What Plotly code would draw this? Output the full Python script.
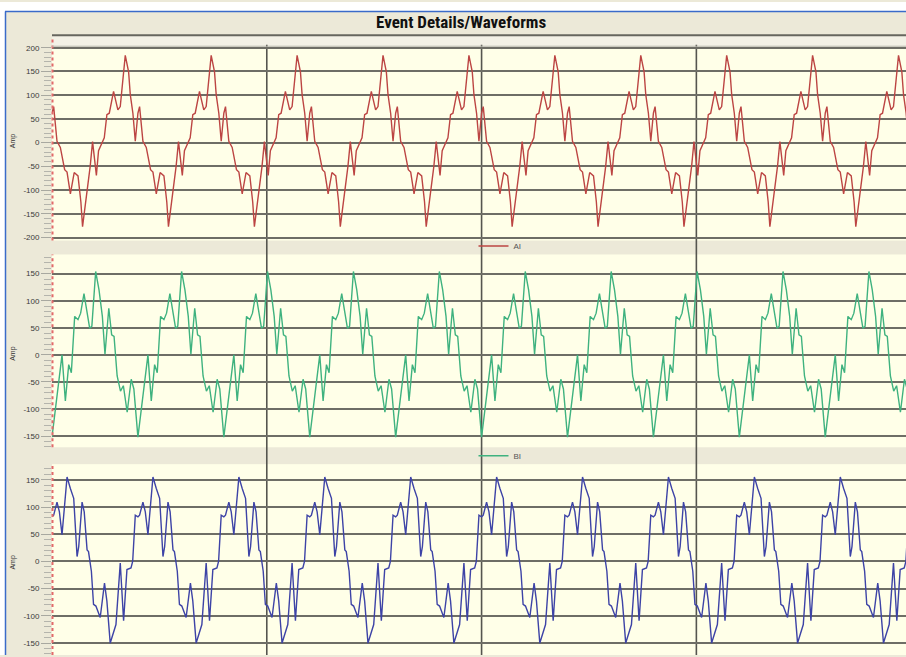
import plotly.graph_objects as go

# ---------------- data ----------------
# one cycle of each waveform: phase in degrees, value in Amp
ai_phase = [0, 7, 21, 35, 53, 63, 77, 93, 109, 121, 128, 140, 151, 160, 170, 186, 195,
            212, 219, 230, 240, 258, 276, 286, 307, 321, 328, 339, 349]
ai_vals = [62, 76, 3, -10, -57, -62, -108, -63, -70, -125, -177, -128, -94, -50, 2, -69, -17,
           0, 10, 59, 62, 108, 69, 76, 184, 149, 101, 62, 3]

bi_phase = [0, 11, 25, 42, 56, 70, 81, 95, 109, 120, 134, 144, 158, 167, 183, 197, 211,
            222, 238, 250, 260, 273, 287, 299, 315, 332, 343]
bi_vals = [-152, -112, -51, 0, -85, -18, -33, 71, 65, 77, 113, 89, 49, 53, 154, 120, 71,
           1, 86, 37, 34, -39, -67, -57, -106, -45, -63]

ci_phase = [0, 7, 21, 31, 42, 63, 77, 91, 105, 112, 126, 135, 147, 153, 165, 174, 184,
            202, 220, 230, 244, 258, 268, 286, 300, 314, 331, 338, 349]
ci_vals = [82, 85, 109, 91, 49, 155, 134, 116, 9, 27, 109, 91, 21, 18, -18, -79, -82,
           -103, -40, -73, -150, -128, -116, -3, -109, -15, -12, 0, 85]

n_cycles = 11            # cycles recorded in the window
cycles_per_division = 2.5
visible_cycles = 9.94

ai_ticks = [200, 150, 100, 50, 0, -50, -100, -150, -200]
bi_ticks = [150, 100, 50, 0, -50, -100, -150]
ci_ticks = [150, 100, 50, 0, -50, -100, -150]

series_names = ["AI", "BI", "CI"]
series_colors = ["#BC4543", "#3FB27F", "#3D43A6"]


def build(phase, vals):
    t, v = [], []
    for k in range(n_cycles):
        for p, y in zip(phase, vals):
            t.append(k + p / 360.0)
            v.append(y)
    return t, v


W, H = 906, 657


def py(px):
    return 1 - px / H


def pxx(px):
    return px / W


fig = go.Figure()

panels = [
    # (phase, vals, ticks, domain px, range)
    (ai_phase, ai_vals, ai_ticks, (44, 240), (-206.3, 204.2)),
    (bi_phase, bi_vals, bi_ticks, (254, 448), (-170.7, 185.4)),
    (ci_phase, ci_vals, ci_ticks, (465, 657), (-171.9, 178.7)),
]

legends = ["legend", "legend2", None]
legend_y_px = [245.5, 456.5]

tick_font = dict(family="Liberation Sans, Arial, sans-serif", size=8, color="#3a3a3a")

layout = dict(
    width=W, height=H,
    margin=dict(l=0, r=0, t=0, b=0),
    paper_bgcolor="#ECE9D8",
    plot_bgcolor="#FFFFE8",
    showlegend=True,
)

shapes = []
annotations = []

for i, (ph, vals, ticks, dom, rng) in enumerate(panels):
    n = "" if i == 0 else str(i + 1)
    t, v = build(ph, vals)
    tr = go.Scatter(
        x=t, y=v, mode="lines", name=series_names[i],
        line=dict(color=series_colors[i], width=1.4),
        xaxis="x" + n, yaxis="y" + n,
        showlegend=legends[i] is not None,
        hoverinfo="skip",
    )
    if legends[i] is not None:
        tr.legend = legends[i]
    fig.add_trace(tr)

    layout["xaxis" + n] = dict(
        domain=[pxx(52), 1], range=[0, visible_cycles], anchor="y" + n,
        showgrid=False, zeroline=False, showticklabels=False, ticks="",
        showline=False,
    )
    layout["yaxis" + n] = dict(
        domain=[py(dom[1]), py(dom[0])], range=list(rng), anchor="x" + n,
        tickmode="array", tickvals=ticks, ticktext=[str(x) for x in ticks],
        ticks="outside", ticklen=10, tickcolor="#A8A8A0", tickwidth=1,
        minor=dict(dtick=10, tick0=0, ticks="outside", ticklen=7,
                   tickcolor="#B4B4AC", tickwidth=1, showgrid=False),
        showgrid=True, gridcolor="#6E6E66", gridwidth=1.6,
        zeroline=False, showline=False, tickfont=tick_font,
    )

    # dashed red left axis line
    shapes.append(dict(type="line", xref="paper", yref="paper",
                       x0=pxx(52.5), x1=pxx(52.5), y0=py(dom[1]), y1=py(dom[0] - (9 if i == 0 else 0)),
                       line=dict(color="#E26A6A", width=2, dash="dot"), layer="above"))

    # "Amp" axis title
    annotations.append(dict(text="Amp", x=pxx(13), y=py((dom[0] + min(dom[1], 657)) / 2 + (-2 if i == 0 else 3)),
                            xref="paper", yref="paper", showarrow=False, textangle=-90,
                            font=dict(family="Liberation Sans, Arial, sans-serif", size=7, color="#333333"),
                            xanchor="center", yanchor="middle"))

# legends for the first two panels
layout["legend"] = dict(x=pxx(500), y=py(legend_y_px[0]), xanchor="center", yanchor="middle",
                        orientation="h", bgcolor="rgba(0,0,0,0)",
                        font=dict(family="Liberation Sans, Arial, sans-serif", size=8, color="#555555"))
layout["legend2"] = dict(x=pxx(500), y=py(legend_y_px[1]), xanchor="center", yanchor="middle",
                         orientation="h", bgcolor="rgba(0,0,0,0)",
                         font=dict(family="Liberation Sans, Arial, sans-serif", size=8, color="#555555"))

# top header band of the chart frame
shapes.append(dict(type="rect", xref="paper", yref="paper", x0=pxx(52), x1=1, y0=py(45), y1=py(33),
                   fillcolor="#F3F1E6", line=dict(width=0), layer="below"))
shapes.append(dict(type="line", xref="paper", yref="paper", x0=pxx(52), x1=1, y0=py(33.5), y1=py(33.5),
                   line=dict(color="#66665E", width=2)))
shapes.append(dict(type="line", xref="paper", yref="paper", x0=pxx(52), x1=1, y0=py(44.5), y1=py(44.5),
                   line=dict(color="#B8B8AE", width=1)))

# vertical division lines across all panels
k = 1
while k * cycles_per_division < visible_cycles:
    xv = k * cycles_per_division
    shapes.append(dict(type="line", xref="x", yref="paper", x0=xv, x1=xv, y0=0, y1=py(43),
                       line=dict(color="#55554F", width=1.6), layer="below"))
    k += 1

# window frame: white outside strip, blue border
shapes.append(dict(type="rect", xref="paper", yref="paper", x0=0, x1=1, y0=py(9), y1=1,
                   fillcolor="#FFFFFF", line=dict(width=0), layer="below"))
shapes.append(dict(type="rect", xref="paper", yref="paper", x0=0, x1=pxx(5), y0=0, y1=1,
                   fillcolor="#FFFFFF", line=dict(width=0), layer="below"))
shapes.append(dict(type="line", xref="paper", yref="paper", x0=pxx(5), x1=1, y0=py(9.5), y1=py(9.5),
                   line=dict(color="#3A6BC9", width=1.5)))
shapes.append(dict(type="line", xref="paper", yref="paper", x0=pxx(5.5), x1=pxx(5.5), y0=0, y1=py(9.5),
                   line=dict(color="#3A6BC9", width=1.5)))

annotations.append(dict(text="<b>Event Details/Waveforms</b>", x=pxx(461), y=py(20.5),
                        xref="paper", yref="paper", showarrow=False,
                        xanchor="center", yanchor="middle",
                        font=dict(family="Liberation Sans Narrow, Roboto Condensed, Arial Narrow, Liberation Sans, sans-serif",
                                  size=17, color="#111111")))

layout["shapes"] = shapes
layout["annotations"] = annotations
fig.update_layout(**layout)

fig.write_html("out.html")
